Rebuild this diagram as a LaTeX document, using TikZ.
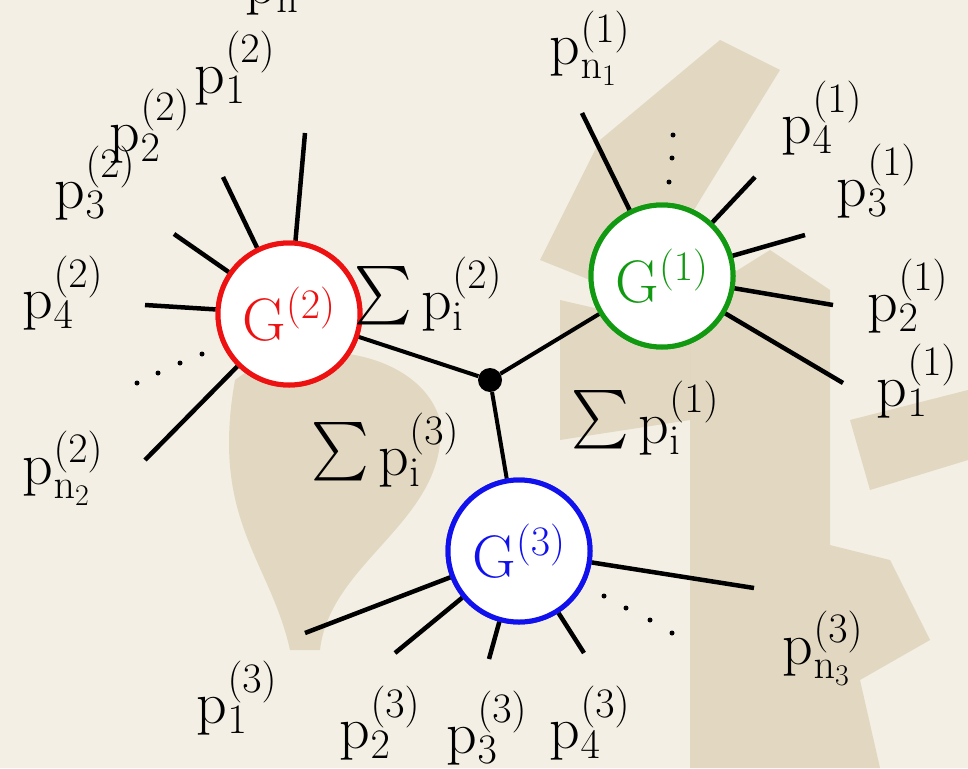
\RequirePackage{fix-cm}
\documentclass[tikz,border=0pt]{standalone}
\usepackage{exscale}
\definecolor{bgbase}{HTML}{F3EFE4}
\definecolor{tan}{HTML}{C9B58E}
\definecolor{gred}{HTML}{EE1111}
\definecolor{ggreen}{HTML}{119911}
\definecolor{gblue}{HTML}{1111EE}
\newcommand{\pp}{\mathrm{p}}
\newcommand{\nn}{\mathrm{n}}
\newcommand{\bigsum}{\raisebox{-0.2em}{\scalebox{2.2}[2.35]{$\sum$}}}
\tikzset{
  blob/.style={fill=tan, opacity=0.4},
  graphnode/.style={circle, fill=white, line width=5pt, minimum size=142pt, inner sep=0pt},
  leg/.style={line width=4.5pt},
  lbl/.style={inner sep=0pt},
  dotmark/.style={circle, fill=black, minimum size=5pt, inner sep=0pt},
}
\begin{document}
\begin{tikzpicture}[x=1pt,y=-1pt,font=\fontsize{60}{70}\selectfont]
\fill[bgbase] (0,0) rectangle (968,768);
\useasboundingbox (0,0) rectangle (968,768);
% faded background picture
\fill[blob] (690,300) -- (770,250) -- (830,290) -- (830,545) -- (890,560) -- (930,640) -- (860,680) -- (880,768) -- (690,768) -- cycle;
\fill[blob] (235,380) .. controls (300,330) and (420,350) .. (440,420) .. controls (450,520) and (330,560) .. (320,650) -- (290,650) .. controls (270,560) and (210,520) .. (235,380) -- cycle;
\fill[blob] (540,260) -- (600,140) -- (720,40) -- (780,70) -- (700,200) -- (640,300) -- cycle;
\fill[blob] (560,300) -- (690,330) -- (690,420) -- (560,440) -- cycle;
\fill[blob] (850,420) -- (968,390) -- (968,460) -- (870,490) -- cycle;

% graph nodes
\node[graphnode, draw=gred, text=gred] (g2) at (289,314) {G$^{(2)}$};
\node[graphnode, draw=ggreen, text=ggreen] (g1) at (662,276) {G$^{(1)}$};
\node[graphnode, draw=gblue, text=gblue] (g3) at (519,551) {G$^{(3)}$};
\node[circle, fill=black, minimum size=24pt, inner sep=0pt] (j) at (490,380) {};

% free ends of legs
\coordinate (e21) at (305,133);
\coordinate (e22) at (223,177);
\coordinate (e23) at (174,234);
\coordinate (e24) at (145,305);
\coordinate (e2n) at (145,460);
\coordinate (e1n) at (582,113);
\coordinate (e14) at (755,177);
\coordinate (e13) at (805,235);
\coordinate (e12) at (833,305);
\coordinate (e11) at (843,383);
\coordinate (e31) at (305,633);
\coordinate (e32) at (395,653);
\coordinate (e33) at (489,659);
\coordinate (e34) at (584,653);
\coordinate (e3n) at (754,588);

\foreach \e in {e21,e22,e23,e24,e2n} \draw[leg] (\e) -- (g2);
\foreach \e in {e1n,e14,e13,e12,e11} \draw[leg] (\e) -- (g1);
\foreach \e in {e31,e32,e33,e34,e3n} \draw[leg] (\e) -- (g3);
\draw[leg, line width=4pt] (g2) -- (j);
\draw[leg, line width=4pt] (g1) -- (j);
\draw[leg, line width=4pt] (g3) -- (j);
% redraw nodes on top
\node[graphnode, draw=gred, text=gred] at (g2) {G$^{(2)}$};
\node[graphnode, draw=ggreen, text=ggreen] at (g1) {G$^{(1)}$};
\node[graphnode, draw=gblue, text=gblue] at (g3) {G$^{(3)}$};

% dots
\foreach \p [count=\k] in {(137,383),(158,373),(180,363),(202,354)} \node[dotmark] (d2\k) at \p {};
\foreach \p [count=\k] in {(673,135),(672,158),(669,182)} \node[dotmark] (d1\k) at \p {};
\foreach \p [count=\k] in {(604,596),(626,608),(650,620),(672,633)} \node[dotmark] (d3\k) at \p {};

% labels G2
\node[lbl] (l2t) at (272,-4) {$\pp_{\nn}$};
\node[lbl] (l21) at (235,68) {$\pp_1^{(2)}$};
\node[lbl] (l22) at (150,126) {$\pp_2^{(2)}$};
\node[lbl] (l23) at (95,183) {$\pp_3^{(2)}$};
\node[lbl] (l24) at (63,293) {$\pp_4^{(2)}$};
\node[lbl] (l2n) at (63,468) {$\pp_{\nn_2}^{(2)}$};
% labels G1
\node[lbl] (l1n) at (590,48) {$\pp_{\nn_1}^{(1)}$};
\node[lbl] (l14) at (822,118) {$\pp_4^{(1)}$};
\node[lbl] (l13) at (877,181) {$\pp_3^{(1)}$};
\node[lbl] (l12) at (908,296) {$\pp_2^{(1)}$};
\node[lbl] (l11) at (917,381) {$\pp_1^{(1)}$};
% labels G3
\node[lbl] (l31) at (237,698) {$\pp_1^{(3)}$};
\node[lbl] (l32) at (380,723) {$\pp_2^{(3)}$};
\node[lbl] (l33) at (487,728) {$\pp_3^{(3)}$};
\node[lbl] (l34) at (590,723) {$\pp_4^{(3)}$};
\node[lbl] (l3n) at (823,648) {$\pp_{\nn_3}^{(3)}$};
% sums
\node[lbl] (s2) at (428,294) {\bigsum\,$\pp_{\mathrm{i}}^{(2)}$};
\node[lbl] (s3) at (385,450) {\bigsum\,$\pp_{\mathrm{i}}^{(3)}$};
\node[lbl] (s1) at (645,418) {\bigsum\,$\pp_{\mathrm{i}}^{(1)}$};
\end{tikzpicture}
\end{document}
